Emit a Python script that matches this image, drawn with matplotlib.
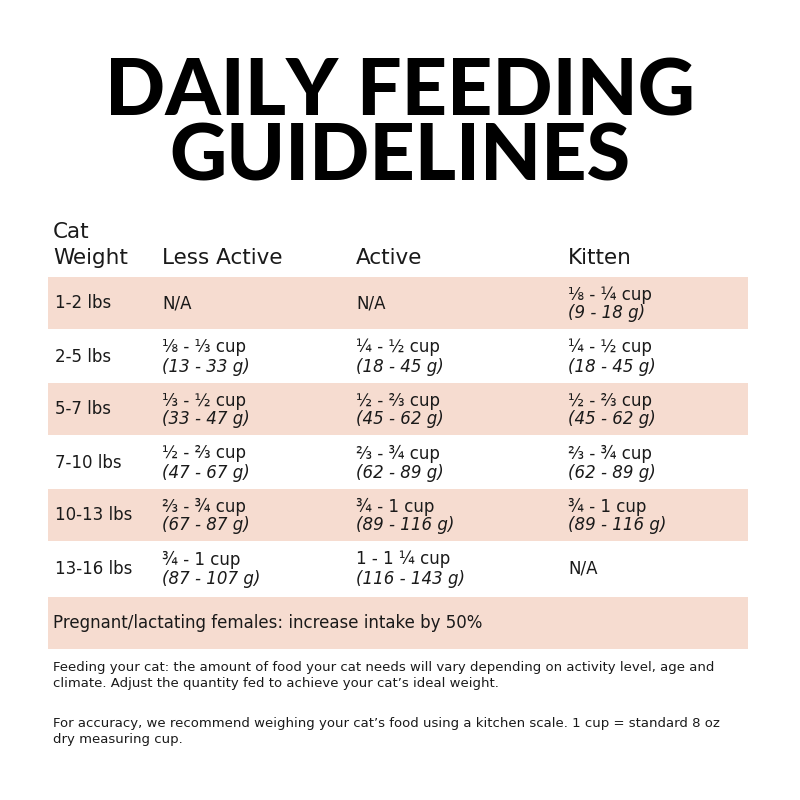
import matplotlib

matplotlib.use("Agg")
import matplotlib.pyplot as plt
from matplotlib.patches import Rectangle

plt.rcParams["font.family"] = ["DejaVu Sans"]

title_lines = ["DAILY FEEDING", "GUIDELINES"]
headers = ["Less Active", "Active", "Kitten"]
weights = ["1-2 lbs", "2-5 lbs", "5-7 lbs", "7-10 lbs", "10-13 lbs", "13-16 lbs"]
less_active = [("N/A", ""), ("⅛ - ⅓ cup", "(13 - 33 g)"), ("⅓ - ½ cup", "(33 - 47 g)"),
               ("½ - ⅔ cup", "(47 - 67 g)"), ("⅔ - ¾ cup", "(67 - 87 g)"), ("¾ - 1 cup", "(87 - 107 g)")]
active = [("N/A", ""), ("¼ - ½ cup", "(18 - 45 g)"), ("½ - ⅔ cup", "(45 - 62 g)"),
          ("⅔ - ¾ cup", "(62 - 89 g)"), ("¾ - 1 cup", "(89 - 116 g)"), ("1 - 1 ¼ cup", "(116 - 143 g)")]
kitten = [("⅛ - ¼ cup", "(9 - 18 g)"), ("¼ - ½ cup", "(18 - 45 g)"), ("½ - ⅔ cup", "(45 - 62 g)"),
          ("⅔ - ¾ cup", "(62 - 89 g)"), ("¾ - 1 cup", "(89 - 116 g)"), ("N/A", "")]
pregnant_note = "Pregnant/lactating females: increase intake by 50%"
footnotes = [
    "Feeding your cat: the amount of food your cat needs will vary depending on activity level, age and\nclimate. Adjust the quantity fed to achieve your cat’s ideal weight.",
    "For accuracy, we recommend weighing your cat’s food using a kitchen scale. 1 cup = standard 8 oz\ndry measuring cup.",
]

band = "#f6dcd0"
ink = "#1a1a1a"

fig = plt.figure(figsize=(8, 8), dpi=100)
ax = fig.add_axes([0, 0, 1, 1])
ax.set_xlim(0, 800)
ax.set_ylim(800, 0)
ax.axis("off")

for i, line in enumerate(title_lines):
    ax.text(400, 93 + i * 65, line, ha="center", va="center", fontsize=57,
            fontweight="black", family=["Lato", "DejaVu Sans"], color="black")

ax.text(53, 232, "Cat", fontsize=15.5, va="center", color=ink)
ax.text(53, 258, "Weight", fontsize=15.5, va="center", color=ink)
col_x = [162, 356, 568]
for x, h in zip(col_x, headers):
    ax.text(x, 258, h, fontsize=15.5, va="center", color=ink)

row_top, row_h = 277, 53
for i, w in enumerate(weights):
    top = row_top + i * row_h
    if i % 2 == 0:
        ax.add_patch(Rectangle((48, top), 700, row_h - 1, color=band, lw=0))
    cy = top + row_h / 2
    ax.text(55, cy, w, fontsize=12, va="center", color=ink)
    for x, cell in zip(col_x, (less_active[i], active[i], kitten[i])):
        cup, grams = cell
        if grams:
            ax.text(x, cy - 9, cup, fontsize=12, va="center", color=ink)
            ax.text(x, cy + 10, grams, fontsize=12, va="center", style="italic", color=ink)
        else:
            ax.text(x, cy, cup, fontsize=12, va="center", color=ink)

ax.add_patch(Rectangle((48, 597), 700, 52, color=band, lw=0))
ax.text(53, 623, pregnant_note, fontsize=12, va="center", color=ink)

for y, note in zip([675, 731], footnotes):
    ax.text(53, y, note, fontsize=9.5, va="center", color=ink, linespacing=1.3)

fig.savefig("out.png", dpi=100)
plt.close(fig)
